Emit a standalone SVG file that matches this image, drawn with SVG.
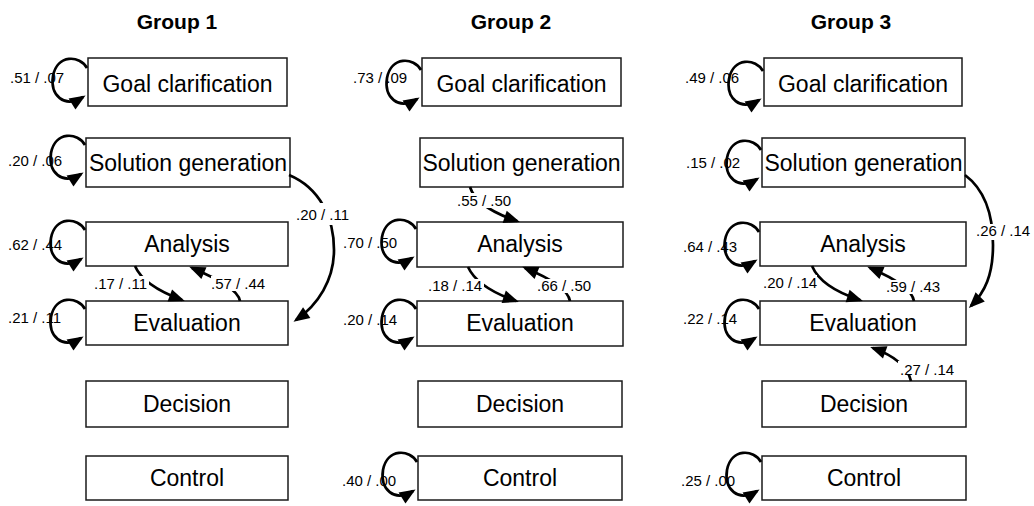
<svg xmlns="http://www.w3.org/2000/svg" width="1034" height="506" viewBox="0 0 1034 506">
<style>
.box{fill:#fff;stroke:#1a1a1a;stroke-width:1.5}
.nt{font-family:"Liberation Sans",Arial,sans-serif;font-size:23px;fill:#000;text-anchor:middle}
.title{font-family:"Liberation Sans",Arial,sans-serif;font-size:21px;font-weight:bold;fill:#000;text-anchor:middle}
.lbl{font-family:"Liberation Sans",Arial,sans-serif;font-size:15px;fill:#000}
.edge{fill:none;stroke:#000;stroke-width:2.7;marker-end:url(#arr)}
.knock{fill:#fff;stroke:none}
</style>
<defs>
<marker id="arr" markerUnits="userSpaceOnUse" markerWidth="16" markerHeight="13" refX="13" refY="6.5" orient="auto" overflow="visible">
<path d="M0,0 L16,6.5 L0,13 z" fill="#000"/>
</marker>
<path id="loop" d="M -1,9 C -8,-4 -31,-5 -35,17 C -38,36 -24,50 -5,38"/>
</defs>
<rect width="1034" height="506" fill="#fff"/>
<g id="titles">
<text class="title" x="177" y="29">Group 1</text>
<text class="title" x="511" y="29">Group 2</text>
<text class="title" x="851" y="29">Group 3</text>
</g>
<g id="g1-goal"><rect class="box" x="88" y="58" width="199" height="48"/><text class="nt" x="187.5" y="92">Goal clarification</text></g>
<g id="g1-solution"><rect class="box" x="86" y="138" width="204" height="49"/><text class="nt" x="188" y="171">Solution generation</text></g>
<g id="g1-analysis"><rect class="box" x="86" y="222" width="202" height="44"/><text class="nt" x="187" y="252">Analysis</text></g>
<g id="g1-evaluation"><rect class="box" x="86" y="301" width="202" height="44"/><text class="nt" x="187" y="331">Evaluation</text></g>
<g id="g1-decision"><rect class="box" x="86" y="381" width="202" height="46"/><text class="nt" x="187" y="412">Decision</text></g>
<g id="g1-control"><rect class="box" x="86" y="456" width="202" height="44"/><text class="nt" x="187" y="486">Control</text></g>
<g id="g2-goal"><rect class="box" x="422" y="58" width="199" height="48"/><text class="nt" x="521.5" y="92">Goal clarification</text></g>
<g id="g2-solution"><rect class="box" x="420" y="138" width="203" height="49"/><text class="nt" x="521.5" y="171">Solution generation</text></g>
<g id="g2-analysis"><rect class="box" x="417" y="222" width="206" height="45"/><text class="nt" x="520" y="252">Analysis</text></g>
<g id="g2-evaluation"><rect class="box" x="417" y="301" width="206" height="45"/><text class="nt" x="520" y="331">Evaluation</text></g>
<g id="g2-decision"><rect class="box" x="418" y="381" width="204" height="46"/><text class="nt" x="520" y="412">Decision</text></g>
<g id="g2-control"><rect class="box" x="418" y="456" width="204" height="44"/><text class="nt" x="520" y="486">Control</text></g>
<g id="g3-goal"><rect class="box" x="764" y="58" width="198" height="48"/><text class="nt" x="863" y="92">Goal clarification</text></g>
<g id="g3-solution"><rect class="box" x="762" y="138" width="203" height="49"/><text class="nt" x="863.5" y="171">Solution generation</text></g>
<g id="g3-analysis"><rect class="box" x="760" y="222" width="206" height="44"/><text class="nt" x="863" y="252">Analysis</text></g>
<g id="g3-evaluation"><rect class="box" x="760" y="301" width="206" height="44"/><text class="nt" x="863" y="331">Evaluation</text></g>
<g id="g3-decision"><rect class="box" x="762" y="381" width="204" height="46"/><text class="nt" x="864" y="412">Decision</text></g>
<g id="g3-control"><rect class="box" x="762" y="456" width="204" height="44"/><text class="nt" x="864" y="486">Control</text></g>
<g id="connectors">
<use href="#loop" class="edge" transform="translate(88,59)"/>
<use href="#loop" class="edge" transform="translate(86,136)"/>
<use href="#loop" class="edge" transform="translate(86,221)"/>
<use href="#loop" class="edge" transform="translate(86,300)"/>
<use href="#loop" class="edge" transform="translate(422,61)"/>
<use href="#loop" class="edge" transform="translate(417,220)"/>
<use href="#loop" class="edge" transform="translate(417,300)"/>
<use href="#loop" class="edge" transform="translate(418,453)"/>
<use href="#loop" class="edge" transform="translate(764,62)"/>
<use href="#loop" class="edge" transform="translate(762,141)"/>
<use href="#loop" class="edge" transform="translate(760,223)"/>
<use href="#loop" class="edge" transform="translate(760,300)"/>
<use href="#loop" class="edge" transform="translate(762,453)"/>
<path class="edge" d="M 289,175 C 320,188 334,218 334,250 C 334,280 318,305 296,320"/>
<path class="edge" d="M 135,266 C 140,278 155,290 182,300"/>
<path class="edge" d="M 240,301 C 238,290 220,280 192,268"/>
<path class="edge" d="M 470,187 C 474,200 490,212 517,221"/>
<path class="edge" d="M 468,267 C 474,280 490,292 516,301"/>
<path class="edge" d="M 570,301 C 568,290 552,279 525,268"/>
<path class="edge" d="M 965,175 C 985,190 993,215 993,245 C 993,275 985,292 971,306"/>
<path class="edge" d="M 812,266 C 818,280 835,292 860,300"/>
<path class="edge" d="M 914,301 C 912,290 896,279 870,268"/>
<path class="edge" d="M 911,381 C 908,368 895,356 873,348"/>
<rect class="knock" x="294" y="203" width="56" height="22"/>
<rect class="knock" x="93" y="276" width="56" height="15"/>
<rect class="knock" x="211" y="276" width="56" height="15"/>
<rect class="knock" x="455" y="193" width="59" height="15"/>
<rect class="knock" x="427" y="279" width="57" height="14"/>
<rect class="knock" x="536" y="279" width="57" height="14"/>
<rect class="knock" x="974" y="224" width="58" height="16"/>
<rect class="knock" x="762" y="275" width="55" height="15"/>
<rect class="knock" x="885" y="280" width="56" height="14"/>
<rect class="knock" x="898" y="361" width="58" height="14"/>
<text class="lbl" x="10" y="83">.51 / .07</text>
<text class="lbl" x="8" y="166">.20 / .06</text>
<text class="lbl" x="8" y="250">.62 / .44</text>
<text class="lbl" x="8" y="323">.21 / .11</text>
<text class="lbl" x="296" y="220">.20 / .11</text>
<text class="lbl" x="94" y="289">.17 / .11</text>
<text class="lbl" x="211" y="289">.57 / .44</text>
<text class="lbl" x="353" y="83">.73 / .09</text>
<text class="lbl" x="457" y="206">.55 / .50</text>
<text class="lbl" x="343" y="248">.70 / .50</text>
<text class="lbl" x="428" y="291">.18 / .14</text>
<text class="lbl" x="537" y="291">.66 / .50</text>
<text class="lbl" x="343" y="325">.20 / .14</text>
<text class="lbl" x="342" y="486">.40 / .00</text>
<text class="lbl" x="685" y="83">.49 / .06</text>
<text class="lbl" x="686" y="168">.15 / .02</text>
<text class="lbl" x="683" y="252">.64 / .43</text>
<text class="lbl" x="976" y="236">.26 / .14</text>
<text class="lbl" x="763" y="288">.20 / .14</text>
<text class="lbl" x="886" y="292">.59 / .43</text>
<text class="lbl" x="683" y="324">.22 / .14</text>
<text class="lbl" x="900" y="375">.27 / .14</text>
<text class="lbl" x="681" y="486">.25 / .00</text>
</g>
</svg>
